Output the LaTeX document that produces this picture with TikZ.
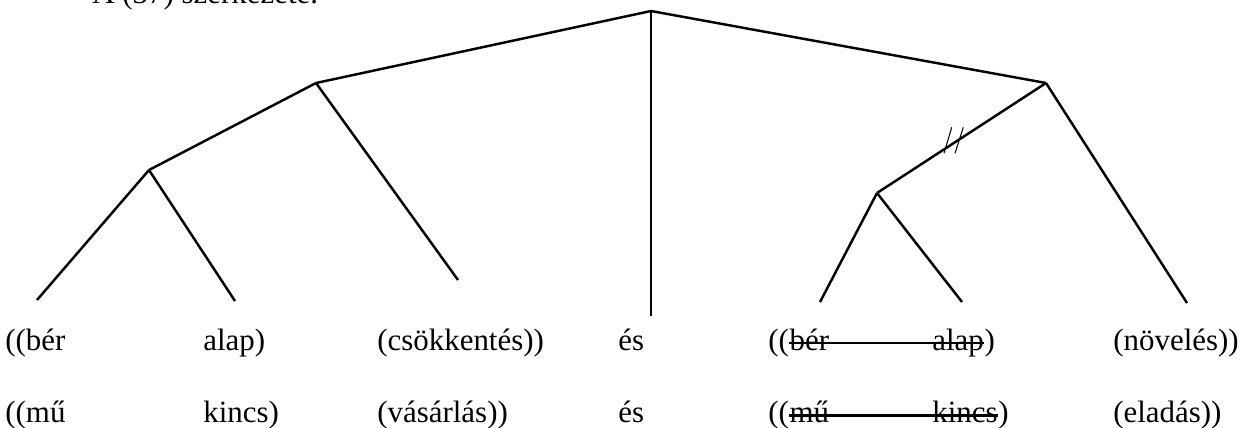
\documentclass[tikz,border=0pt]{standalone}
\usepackage{fontspec}
\setmainfont{Liberation Serif}
\usetikzlibrary{positioning}

\begin{document}
\begin{tikzpicture}[%
        x=0.02cm, y=-0.02cm,
        every node/.style={
            font=\fontsize{17.6}{21}\selectfont,
            inner sep=0pt,
            anchor=base west,
        },
        branch/.style={line width=1.4pt},
        strike/.style={line width=1.3pt},
        cutmark/.style={line width=0.6pt},
    ]
    \useasboundingbox (0,0) rectangle (1253,427);

    % heading, cut by the page edge
    \node (head) at (92,3) {A (37) szerkezete.};

    % first row of words
    \node (w1) at (5,350) {((bér};
    \node (w2) at (203,350) {alap)};
    \node (w3) at (377,350) {(csökkentés))};
    \node (w4) at (618,350) {és};
    \node (w5) at (768,350) {((};
    \node (w6) at (w5.base east) {bér};
    \node (w7) at (932,350) {alap};
    \node (w8) at (w7.base east) {)};
    \node (w9) at (1113,350) {(növelés))};

    % second row of words
    \node (v1) at (5,422) {((mű};
    \node (v2) at (203,422) {kincs)};
    \node (v3) at (377,422) {(vásárlás))};
    \node (v4) at (618,422) {és};
    \node (v5) at (768,422) {((};
    \node (v6) at (v5.base east) {mű};
    \node (v7) at (932,422) {kincs};
    \node (v8) at (v7.base east) {)};
    \node (v9) at (1113,422) {(eladás))};

    % struck out words
    \draw[strike] ([yshift=1.4mm]w6.base west) -- ([yshift=1.4mm]w7.base east);
    \draw[strike] ([yshift=1.3mm]v6.base west) -- ([yshift=1.3mm]v7.base east);

    % tree nodes
    \coordinate (root) at (651,11);
    \coordinate (nl) at (316,83);
    \coordinate (nll) at (149,170);
    \coordinate (nr) at (1046,83);
    \coordinate (nrl) at (877,193);

    % ends of the branches above the words
    \coordinate (e1) at (37,300);
    \coordinate (e2) at (235,301);
    \coordinate (e3) at (458,280);
    \coordinate (e4) at (651,316);
    \coordinate (e5) at (820,302);
    \coordinate (e6) at (962,302);
    \coordinate (e7) at (1187,303);

    % draw branches
    \draw[branch] (root) -- (nl);
    \draw[branch] (root) -- (e4);
    \draw[branch] (root) -- (nr);
    \draw[branch] (nl) -- (nll);
    \draw[branch] (nl) -- (e3);
    \draw[branch] (nll) -- (e1);
    \draw[branch] (nll) -- (e2);
    \draw[branch] (nr) -- (nrl);
    \draw[branch] (nr) -- (e7);
    \draw[branch] (nrl) -- (e5);
    \draw[branch] (nrl) -- (e6);

    % double slash on the cut branch
    \draw[cutmark] (951.7,127.3) -- (944,153.3);
    \draw[cutmark] (963.3,127.3) -- (955,153.3);
\end{tikzpicture}
\end{document}
